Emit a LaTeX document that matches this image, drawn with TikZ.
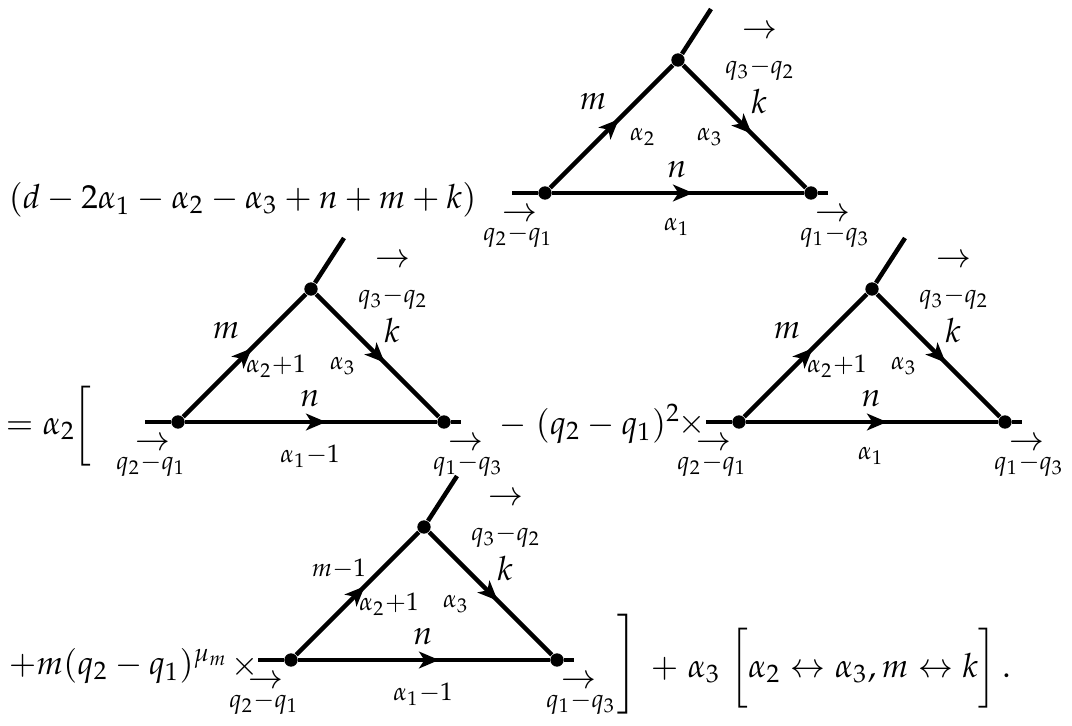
\documentclass[tikz,border=0pt]{standalone}
\usepackage{mathpazo}
\usetikzlibrary{decorations.markings,arrows.meta}
\tikzset{
  vtx/.style={circle,fill=black,inner sep=0pt,minimum size=4pt},
  prop/.style={line width=1.35pt},
  midarrow/.style={line width=1.35pt,postaction={decorate},
    decoration={markings,mark=at position 0.56 with {\arrow{Stealth[length=6pt,width=5pt,inset=1.6pt]}}}},
  biglab/.style={inner sep=0pt},
  lab/.style={inner sep=0pt},
  txt/.style={inner sep=0pt,anchor=base west},
}
\newcommand{\feyntri}[6]{%
  \node[vtx] (#1L) at (#2,#3) {};
  \node[vtx] (#1R) at ({#2+266},#3) {};
  \node[vtx] (#1T) at ({#2+133},{#3-133}) {};
  \coordinate (#1a) at ({#2-33},#3);
  \coordinate (#1b) at ({#2+283},#3);
  \coordinate (#1c) at ({#2+166},{#3-184});
  \draw[prop] (#1a) -- (#1L);
  \draw[prop] (#1R) -- (#1b);
  \draw[prop] (#1T) -- (#1c);
  \draw[midarrow] (#1L) -- (#1R);
  \draw[midarrow] (#1L) -- (#1T);
  \draw[midarrow] (#1T) -- (#1R);
  \node[#4] (#1m) at ({#2+48},{#3-91}) {$#5$};
  \node[biglab] (#1k) at ({#2+214},{#3-91}) {$k$};
  \node[lab] (#1al2) at ({#2+98},{#3-56}) {$\scriptstyle #6$};
  \node[lab] (#1al3) at ({#2+165},{#3-56}) {$\scriptstyle\alpha_3$};
  \node[biglab] (#1n) at ({#2+132},{#3-23}) {$n$};
  \node[lab] (#1qa) at ({#2+215},{#3-124}) {$\scriptstyle q_3-q_2$};
  \node[lab] (#1qaar) at ({#2+215},{#3-161}) {$\rightarrow$};
  \node[lab] (#1qb) at ({#2-27},{#3+43}) {$\scriptstyle q_2-q_1$};
  \node[lab] (#1qbar) at ({#2-25},{#3+22}) {$\rightarrow$};
  \node[lab] (#1qc) at ({#2+290},{#3+43}) {$\scriptstyle q_1-q_3$};
  \node[lab] (#1qcar) at ({#2+288},{#3+22}) {$\rightarrow$};
}
\newcommand{\alphaonelab}[3]{\node[lab] (#1al1) at ({#2+132},{#3+34})}
\begin{document}
\begin{tikzpicture}[x=0.3pt,y=-0.3pt]
\useasboundingbox (0,0) rectangle (1072,725);
% row 1
\node[txt] (f1) at (8,208) {$(d-2\alpha_1-\alpha_2-\alpha_3+n+m+k)$};
\feyntri{A}{545}{193}{biglab}{m}{\alpha_2}
\alphaonelab{A}{545}{193} {$\scriptstyle\alpha_1$};
% row 2
\node[txt] (f2) at (5,434) {$=\alpha_2$};
\node[inner sep=0pt] (br1) at (82,426) {$\bigg[$};
\feyntri{B}{178}{422}{biglab}{m}{\alpha_2+1}
\alphaonelab{B}{178}{422} {$\scriptstyle\alpha_1-1$};
\node[txt] (f3) at (498,434) {$-\;(q_2-q_1)^2$};
\node[inner sep=0pt] (x1) at (692,425) {$\times$};
\feyntri{C}{739}{422}{biglab}{m}{\alpha_2+1}
\alphaonelab{C}{739}{422} {$\scriptstyle\alpha_1$};
% row 3
\node[txt] (f4) at (8,674) {$+m(q_2-q_1)^{\mu_m}$};
\node[inner sep=0pt] (x2) at (245,667) {$\times$};
\feyntri{D}{291}{660}{lab}{\scriptstyle m-1}{\alpha_2+1}
\alphaonelab{D}{291}{660} {$\scriptstyle\alpha_1-1$};
\node[inner sep=0pt] (br2) at (627,664) {$\Bigg]$};
\node[txt] (f5) at (650,677) {$+\;\alpha_3\;\bigg[\alpha_2\leftrightarrow\alpha_3, m\leftrightarrow k\bigg]\,.$};
\end{tikzpicture}
\end{document}
